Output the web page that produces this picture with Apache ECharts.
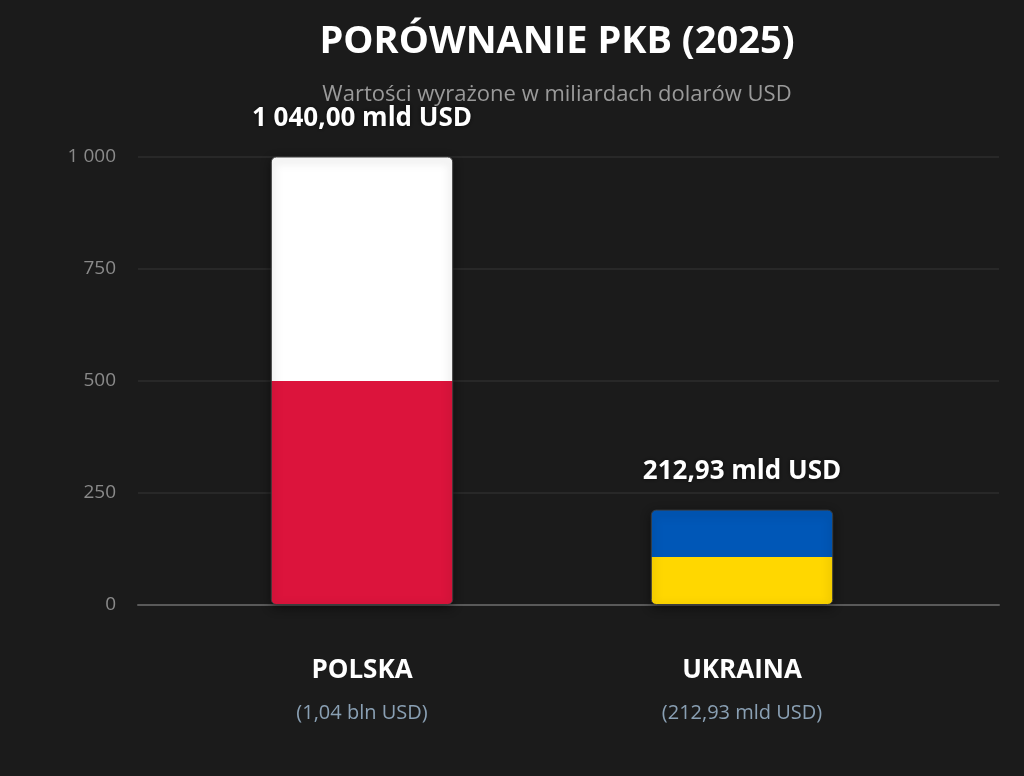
<!DOCTYPE html>
<html>
<head>
<meta charset="utf-8">
<script src="https://cdn.jsdelivr.net/npm/echarts@6/dist/echarts.min.js"></script>
<style>
html, body { margin: 0; padding: 0; background: #1b1b1b; }
#chart { width: 1024px; height: 776px; }
</style>
</head>
<body>
<div id="chart"></div>
<script>
// dane wykresu
var countries = ['POLSKA', 'UKRAINA'];
var gdpValues = [1040.00, 212.93];
var gdpNotes = ['(1,04 bln USD)', '(212,93 mld USD)'];
var valueLabels = ['1 040,00 mld USD', '212,93 mld USD'];
var yMin = 0;
var yMax = 1000;
var yStep = 250;

// kolory flag (góra / dół)
var flagColors = [
    ['#ffffff', '#dc143c'],
    ['#0057b7', '#ffd700']
];

var FONT = '"Open Sans", "Noto Sans", sans-serif';

function flagGradient(i) {
    return {
        type: 'linear', x: 0, y: 0, x2: 0, y2: 1,
        colorStops: [
            { offset: 0, color: flagColors[i][0] },
            { offset: 0.5, color: flagColors[i][0] },
            { offset: 0.5, color: flagColors[i][1] },
            { offset: 1, color: flagColors[i][1] }
        ]
    };
}

function formatTick(v) {
    return String(v).replace(/\B(?=(\d{3})+(?!\d))/g, ' ');
}

var chart = echarts.init(document.getElementById('chart'));
chart.setOption({
    backgroundColor: '#1b1b1b',
    animation: false,
    title: [
        {
            text: 'PORÓWNANIE PKB (2025)',
            left: 552,
            textAlign: 'center',
            top: 18,
            textStyle: { color: '#ffffff', fontSize: 38, fontWeight: 'bold', fontFamily: FONT }
        },
        {
            text: 'Wartości wyrażone w miliardach dolarów USD',
            left: 552,
            textAlign: 'center',
            top: 79,
            textStyle: { color: '#9a9a9a', fontSize: 22, fontWeight: 'normal', fontFamily: FONT }
        }
    ],
    grid: [
        { left: 138, right: 25, top: 157, bottom: 171 },
        { left: 172, right: 92, top: 157, bottom: 171 }
    ],
    xAxis: [
        {
            type: 'category',
            gridIndex: 0,
            data: [''],
            axisLine: { show: true, lineStyle: { color: '#5a5a5a', width: 2 } },
            axisTick: { show: false },
            axisLabel: { show: false }
        },
        {
            type: 'category',
            gridIndex: 1,
            data: countries,
            axisLine: { show: false },
            axisTick: { show: false },
            axisLabel: {
                margin: 44,
                formatter: function (name, idx) {
                    return '{name|' + name + '}\n{note|' + gdpNotes[idx] + '}';
                },
                rich: {
                    name: { color: '#ffffff', fontSize: 26, fontWeight: 'bold', fontFamily: FONT, lineHeight: 44 },
                    note: { color: '#8aa0b4', fontSize: 20, fontFamily: FONT, lineHeight: 40 }
                }
            }
        }
    ],
    yAxis: [
        {
            type: 'value',
            gridIndex: 0,
            min: yMin,
            max: yMax,
            interval: yStep,
            axisLine: { show: false },
            axisTick: { show: false },
            axisLabel: {
                margin: 22,
                color: '#8a8a8a',
                fontSize: 19,
                fontFamily: FONT,
                formatter: formatTick
            },
            splitLine: { lineStyle: { color: '#2e2e2e', width: 1.5 } }
        },
        {
            type: 'value',
            gridIndex: 1,
            min: yMin,
            max: yMax,
            interval: yStep,
            show: false,
            splitLine: { show: false }
        }
    ],
    series: [
        {
            type: 'bar',
            xAxisIndex: 1,
            yAxisIndex: 1,
            barWidth: '48%',
            clip: true,
            data: gdpValues.map(function (v, i) {
                return {
                    value: v,
                    itemStyle: {
                        color: flagGradient(i),
                        borderRadius: 5,
                        borderColor: '#3c3c3c',
                        borderWidth: 1,
                        shadowBlur: 10,
                        shadowColor: 'rgba(0,0,0,0.5)',
                        shadowOffsetY: 3
                    }
                };
            }),
            label: {
                show: true,
                position: 'top',
                distance: 25,
                color: '#ffffff',
                fontSize: 26,
                fontWeight: 'bold',
                fontFamily: FONT,
                textShadowColor: 'rgba(0,0,0,0.6)',
                textShadowBlur: 4,
                formatter: function (p) {
                    return valueLabels[p.dataIndex];
                }
            }
        }
    ]
});
</script>
</body>
</html>
